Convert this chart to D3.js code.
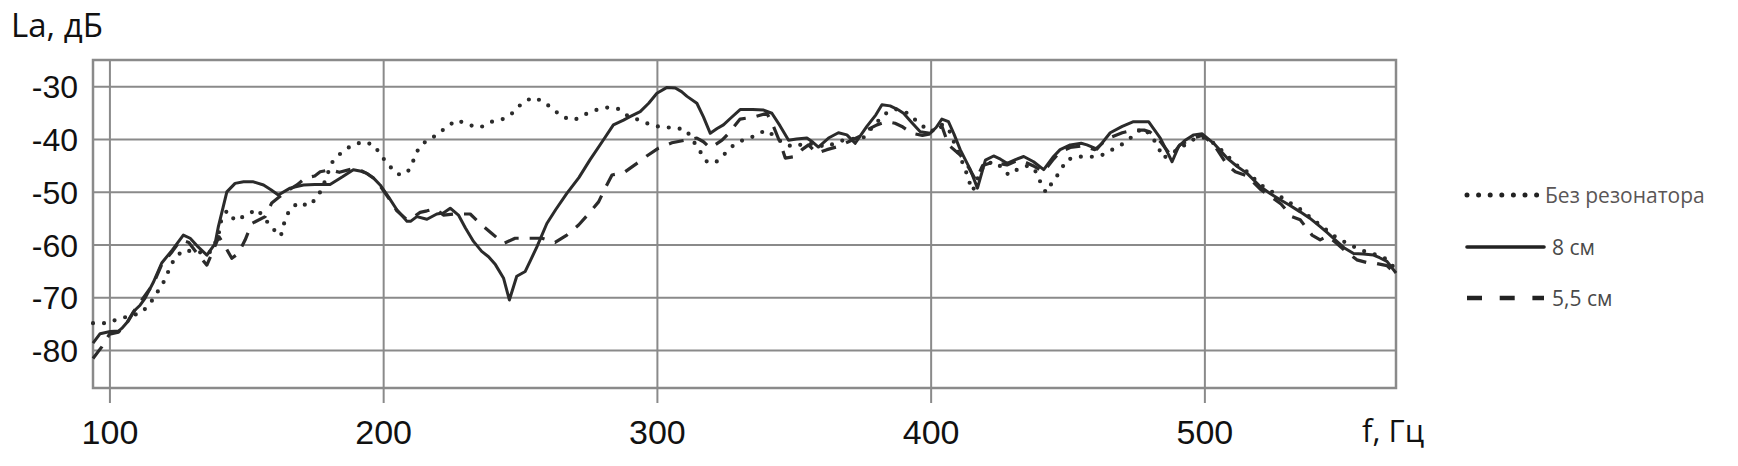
<!DOCTYPE html>
<html>
<head>
<meta charset="utf-8">
<script src="https://cdn.jsdelivr.net/npm/d3@7"></script>
<style>
  body { margin: 0; background: #fff; }
  svg { display: block; font-family: 'Open Sans', sans-serif; }
</style>
</head>
<body>
<svg id="canvas" width="1738" height="466"></svg>
<script>
// tick values
const freqTicks = [100, 200, 300, 400, 500];
const levelTicks = [-30, -40, -50, -60, -70, -80];

// "Без резонатора" (dotted)
const noResF = [94, 98.8, 102.9, 107, 111.5, 114.7, 117.3, 119.7, 121.6, 123.6, 126.8, 131.5, 136.2, 138, 139.8, 140.8, 142.9, 146, 150, 154, 159.5, 162.6, 163.8, 165.6, 169, 172.8, 176.2, 178.5, 181.2, 185, 188.6, 192.7, 196.6, 199.1, 201.9, 205.4, 208.8, 211.1, 212.9, 216, 219.8, 223.3, 227.1, 231.2, 235.4, 239.7, 243.7, 247.4, 250.7, 254.6, 258.3, 262, 265.5, 269.8, 273.8, 277.7, 282, 286, 289.6, 293.6, 297.8, 302, 306.4, 310.7, 315.6, 318.3, 321.3, 324.6, 327.9, 331.7, 335.9, 339.7, 343, 346, 350, 354, 358, 362, 366, 370, 375.3, 379, 383, 387, 390.7, 393.8, 397, 400, 402.4, 404.5, 407, 410, 412.6, 413.8, 415.4, 418, 420, 424, 428.5, 432.5, 436, 438.5, 440.3, 442.1, 444.7, 447.4, 449.5, 453.4, 457.7, 462, 466, 469.9, 473.5, 477.2, 480.5, 483, 485, 487.5, 490.6, 494.3, 497.9, 500.5, 504, 508, 512, 516, 520, 528, 535, 542, 548, 553.3, 558, 562, 566.7, 570];
const noResL = [-74.9, -74.9, -74.2, -73.6, -73.0, -71.3, -69.2, -67.2, -65.0, -62.8, -61.1, -61.3, -61.8, -60.4, -58.3, -55.5, -53.6, -55.5, -54.4, -53.3, -56.9, -58.4, -56.0, -53.6, -52.0, -52.7, -50.9, -48.3, -44.5, -42.4, -41.2, -40.5, -41.1, -43.0, -44.9, -46.7, -46.4, -44.0, -41.8, -40.2, -39.2, -37.6, -36.4, -37.3, -37.8, -36.7, -36.2, -35.0, -33.2, -32.1, -32.8, -34.3, -35.8, -36.4, -35.3, -34.5, -34.0, -34.3, -35.7, -36.4, -37.3, -37.8, -37.8, -38.3, -42.2, -44.3, -44.5, -42.9, -41.2, -40.1, -39.4, -38.3, -39.4, -40.8, -41.5, -40.8, -41.0, -41.5, -40.5, -40.0, -39.8, -37.6, -35.3, -34.3, -34.8, -36.1, -37.5, -38.6, -37.8, -37.2, -38.6, -42.5, -45.6, -47.7, -49.8, -46.3, -44.6, -44.4, -46.8, -45.5, -45.0, -46.2, -48.4, -50.1, -48.0, -46.1, -44.0, -43.3, -43.4, -43.2, -42.1, -41.0, -39.6, -37.9, -39.2, -41.4, -43.6, -42.8, -42.0, -40.5, -39.6, -39.8, -41.0, -43.0, -45.0, -46.3, -48.5, -51.0, -53.3, -56.2, -58.6, -60.1, -61.2, -61.8, -62.8, -64.8];

// "8 см" (solid)
const res8F = [94, 96.6, 100.3, 103.3, 104.5, 106.4, 108.8, 111.2, 113, 116, 119.1, 123, 127, 129.5, 132.5, 135.6, 138.6, 139.8, 141.5, 142.9, 145.9, 149, 152.6, 156.3, 159, 161.7, 166, 170.9, 175, 180.6, 185, 189.1, 192, 194, 196.5, 198.9, 202, 205, 208.7, 210, 212.3, 216, 219.6, 222, 224.5, 227.5, 230, 233, 236, 238.5, 241, 244, 246.1, 248.8, 251.9, 254, 256.2, 259.8, 263, 267.1, 271.5, 275.6, 280, 284.1, 287.8, 290, 293.9, 297, 300, 303.7, 306.7, 309, 311, 314.6, 317, 319.5, 322, 324.3, 327, 330.4, 335, 339, 342, 345, 348.1, 351, 354.8, 357, 359, 362.7, 366.3, 369.4, 372.4, 376.7, 380, 382.2, 385.2, 388, 390.1, 393, 396.2, 399.8, 402, 404.1, 406.5, 408.5, 410.8, 414.5, 417.1, 420, 423, 425.5, 427.9, 431, 434, 437.6, 441.3, 444.9, 447.3, 451, 455, 457.1, 460.8, 463, 465.6, 470, 474.1, 479.6, 483.9, 486, 488.2, 490.6, 493, 496.1, 499.2, 503.4, 508.3, 512, 515.6, 520.4, 524, 527.7, 531, 535, 538.5, 542.3, 545, 548.4, 551, 554.5, 558, 561.8, 564, 566.7, 570];
const res8L = [-78.7, -76.9, -76.5, -76.4, -75.9, -74.8, -72.7, -71.5, -70.2, -67.2, -63.5, -61.0, -58.2, -58.8, -60.5, -62.0, -59.8, -56.6, -53.0, -50.0, -48.4, -48.1, -48.1, -48.7, -49.6, -50.6, -49.3, -48.7, -48.6, -48.6, -47.2, -45.8, -46.1, -46.5, -47.4, -48.7, -51.0, -53.4, -55.6, -55.6, -54.7, -55.2, -54.2, -54.0, -53.1, -54.4, -56.8, -59.4, -61.3, -62.3, -63.8, -66.4, -70.5, -66.0, -65.1, -62.8, -60.4, -56.0, -53.4, -50.3, -47.3, -43.9, -40.5, -37.3, -36.4, -35.8, -34.8, -33.2, -31.3, -30.2, -30.3, -31.0, -31.9, -33.2, -35.8, -38.9, -38.0, -37.3, -36.0, -34.4, -34.4, -34.5, -35.1, -37.5, -40.2, -40.0, -39.8, -40.6, -41.5, -39.8, -38.8, -39.2, -40.8, -37.6, -35.4, -33.5, -33.7, -34.4, -35.1, -36.8, -38.6, -38.9, -37.8, -36.2, -36.7, -39.0, -42.0, -45.8, -49.3, -44.0, -43.2, -43.8, -44.6, -43.9, -43.3, -44.3, -45.8, -43.3, -42.0, -41.1, -40.8, -41.1, -41.9, -40.5, -38.8, -37.6, -36.7, -36.7, -39.8, -42.0, -44.3, -41.4, -40.2, -39.2, -39.0, -40.8, -43.6, -45.2, -46.5, -49.0, -50.3, -51.5, -52.5, -53.8, -55.0, -56.6, -57.8, -59.4, -60.6, -61.7, -61.8, -62.0, -62.5, -63.2, -65.4];

// "5,5 см" (dashed)
const res55F = [94, 97.2, 100, 103.3, 106.4, 110, 116, 119.1, 123, 126.1, 129, 132.5, 135.6, 138, 140, 142.3, 144.7, 147.1, 149.6, 152, 156.9, 159.3, 162, 165, 168.5, 171.5, 175, 177, 180.6, 184, 189.1, 192, 194, 196.5, 198.9, 202, 205, 208.7, 211, 213.5, 216, 219, 222, 226.3, 231.8, 235.4, 239.7, 244, 248.2, 253.7, 258, 262.8, 267.1, 271.4, 275, 278.7, 281.1, 283.6, 287.8, 292.7, 296.3, 300.6, 305.5, 310.3, 314.6, 317, 319.5, 323.8, 326.2, 330.4, 335.5, 340.2, 342.6, 345.1, 346.9, 350.5, 353, 355.4, 358.5, 362.1, 366.3, 370, 374, 377, 380.4, 384, 387, 389.5, 393.2, 397, 400, 402.5, 404.1, 406.5, 410.8, 414, 416.5, 419, 422, 425, 427.9, 432, 435, 438, 441.3, 444.9, 447.3, 451, 455, 460, 465, 470, 474, 478, 480, 484, 488, 491, 496, 499.2, 503.4, 508.3, 511.3, 515.6, 520.4, 524, 528, 532, 535, 539.3, 542.3, 545, 548.4, 551, 555.7, 560, 563, 566.7, 570];
const res55L = [-81.6, -79.4, -77.0, -76.6, -74.9, -71.8, -67.5, -63.8, -61.3, -59.1, -59.6, -62.0, -63.9, -61.0, -58.5, -60.4, -62.6, -61.7, -59.1, -56.0, -54.7, -52.1, -51.0, -49.8, -48.7, -47.4, -47.0, -46.2, -45.8, -46.3, -45.6, -46.0, -46.5, -47.4, -48.9, -51.2, -53.6, -55.3, -54.8, -53.9, -53.6, -53.2, -54.4, -54.2, -54.2, -56.0, -57.9, -59.8, -58.8, -58.8, -58.8, -59.6, -58.2, -56.3, -54.2, -51.9, -49.3, -46.8, -46.4, -44.6, -43.2, -41.7, -40.7, -40.2, -39.8, -40.5, -41.7, -40.2, -38.9, -36.2, -35.8, -35.1, -37.6, -40.8, -43.6, -43.3, -42.0, -41.1, -42.7, -42.0, -41.4, -40.5, -39.5, -38.2, -37.3, -36.7, -37.0, -37.6, -38.9, -39.3, -39.0, -38.0, -37.5, -41.1, -43.0, -45.5, -47.8, -45.0, -44.5, -44.6, -44.9, -44.0, -44.5, -45.2, -46.2, -43.8, -42.4, -41.6, -41.3, -42.0, -39.8, -38.8, -38.3, -38.3, -38.6, -40.5, -43.3, -41.1, -39.8, -39.3, -41.0, -44.9, -46.2, -47.0, -49.5, -50.8, -52.3, -54.7, -55.3, -58.2, -59.1, -58.4, -59.8, -61.0, -62.9, -63.5, -63.6, -64.0, -65.6];

const seriesNames = ['Без резонатора', '8 см', '5,5 см'];

const canvas = d3.select('#canvas');

const plotLeft = 93, plotRight = 1396, plotTop = 60, plotBottom = 388;
const lineColor = '#2b2b2b';
const gridColor = '#8a8a8a';

const x = d3.scaleLinear().domain([94, 570]).range([plotLeft, plotRight]);
const y = d3.scaleLinear().domain([-87.2, -25]).range([plotBottom, plotTop]);

// horizontal grid + y labels
const yAxis = canvas.append('g')
    .attr('transform', 'translate(' + plotLeft + ',0)')
    .call(d3.axisLeft(y)
        .tickValues(levelTicks)
        .tickSize(-(plotRight - plotLeft))
        .tickPadding(15)
        .tickFormat(d => String(d)));
yAxis.select('.domain').remove();
yAxis.selectAll('line').attr('stroke', gridColor).attr('stroke-width', 2);
yAxis.selectAll('text')
    .attr('fill', '#111')
    .style('font-size', '32px')
    .attr('dy', '0.36em');

// vertical grid + x labels, lines run a bit below the frame
const xBase = 403;
const xAxis = canvas.append('g')
    .attr('transform', 'translate(0,' + xBase + ')')
    .call(d3.axisBottom(x)
        .tickValues(freqTicks)
        .tickSize(-(xBase - plotTop))
        .tickFormat(d => String(d)));
xAxis.select('.domain').remove();
xAxis.selectAll('line').attr('stroke', gridColor).attr('stroke-width', 2);
xAxis.selectAll('text')
    .attr('fill', '#111')
    .attr('y', 41)
    .attr('dy', 0)
    .style('font-size', '34px');

// frame
canvas.append('rect')
    .attr('x', plotLeft)
    .attr('y', plotTop)
    .attr('width', plotRight - plotLeft)
    .attr('height', plotBottom - plotTop)
    .attr('fill', 'none')
    .attr('stroke', gridColor)
    .attr('stroke-width', 2.5);

// curves
const line = d3.line()
    .x(d => x(d[0]))
    .y(d => y(d[1]));

const curves = [
    { f: noResF, l: noResL, dash: '0 11', width: 4.2, cap: 'round' },
    { f: res8F, l: res8L, dash: null, width: 3, cap: 'butt' },
    { f: res55F, l: res55L, dash: '15 11', width: 3.2, cap: 'butt' }
];

curves.forEach(c => {
    canvas.append('path')
        .datum(c.f.map((f, i) => [f, c.l[i]]))
        .attr('d', line)
        .attr('fill', 'none')
        .attr('stroke', lineColor)
        .attr('stroke-width', c.width)
        .attr('stroke-linecap', c.cap)
        .attr('stroke-linejoin', 'round')
        .attr('stroke-dasharray', c.dash);
});

// axis titles
canvas.append('text')
    .attr('x', 11)
    .attr('y', 37)
    .attr('fill', '#111')
    .style('font-size', '33px')
    .text('La, дБ');

canvas.append('text')
    .attr('x', 1362)
    .attr('y', 442)
    .attr('fill', '#111')
    .style('font-size', '31px')
    .text('f, Гц');

// legend
const legendY = [195, 247, 298];
const legend = canvas.append('g');
const legendStyles = [
    { dash: '0 11.6', width: 5, cap: 'round' },
    { dash: null, width: 3.6, cap: 'round' },
    { dash: '15 17.7', width: 4.5, cap: 'butt' }
];

seriesNames.forEach((name, i) => {
    const s = legendStyles[i];
    legend.append('line')
        .attr('x1', 1467)
        .attr('x2', i === 0 ? 1537 : 1544)
        .attr('y1', legendY[i])
        .attr('y2', legendY[i])
        .attr('stroke', '#222')
        .attr('stroke-width', s.width)
        .attr('stroke-linecap', s.cap)
        .attr('stroke-dasharray', s.dash);

    legend.append('text')
        .attr('x', i === 0 ? 1545 : 1552)
        .attr('y', legendY[i] + 7.5)
        .attr('fill', i === 0 ? '#5a5656' : '#4a4a4a')
        .style('font-size', '21px')
        .text(name);
});
</script>
</body>
</html>
